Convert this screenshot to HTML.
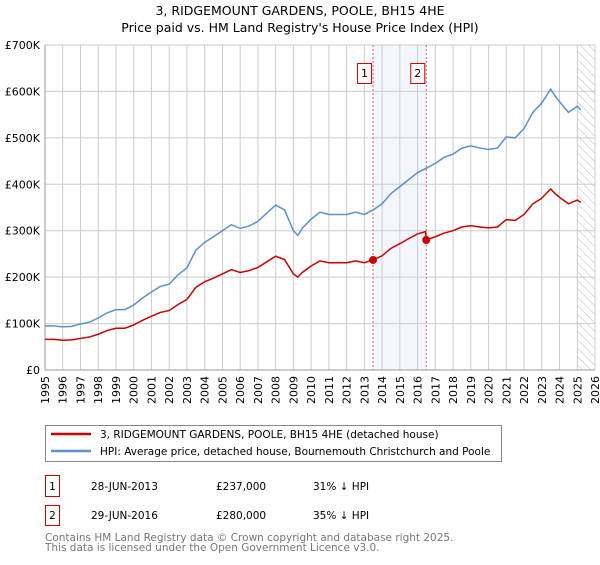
<!DOCTYPE html>
<html><head><meta charset="utf-8"><style>
body{margin:0;background:#fff;}
svg{font-family:"DejaVu Sans","Liberation Sans",sans-serif;}
</style></head><body>
<svg id="c" width="600" height="560" xmlns="http://www.w3.org/2000/svg">
<text x="300" y="15" text-anchor="middle" font-size="12.5">3, RIDGEMOUNT GARDENS, POOLE, BH15 4HE</text>
<text x="300" y="32" text-anchor="middle" font-size="12.5">Price paid vs. HM Land Registry's House Price Index (HPI)</text>
<g id="plot"></g>
<rect x="45.5" y="425.5" width="456" height="36" fill="#fff" stroke="#888"/>
<line x1="51" y1="434" x2="91" y2="434" stroke="#cc0000" stroke-width="2.5"/>
<text x="100" y="438" font-size="10.5">3, RIDGEMOUNT GARDENS, POOLE, BH15 4HE (detached house)</text>
<line x1="51" y1="451" x2="91" y2="451" stroke="#5b8fd4" stroke-width="2.5"/>
<text x="100" y="455" font-size="10.5">HPI: Average price, detached house, Bournemouth Christchurch and Poole</text>
<g font-size="10.5">
<rect x="45.5" y="475.5" width="14" height="21" fill="none" stroke="#cc0000"/><text x="52.5" y="490" text-anchor="middle">1</text>
<text x="91" y="490">28-JUN-2013</text><text x="216" y="490">£237,000</text><text x="313" y="490">31% ↓ HPI</text>
<rect x="45.5" y="505.5" width="14" height="20" fill="none" stroke="#cc0000"/><text x="52.5" y="519" text-anchor="middle">2</text>
<text x="91" y="519">29-JUN-2016</text><text x="216" y="519">£280,000</text><text x="313" y="519">35% ↓ HPI</text>
</g>
<text x="45" y="541" font-size="10.5" fill="#777">Contains HM Land Registry data © Crown copyright and database right 2025.</text>
<text x="45" y="551" font-size="10.5" fill="#777">This data is licensed under the Open Government Licence v3.0.</text>
</svg>
<script>
const years=[1995,1996,1997,1998,1999,2000,2001,2002,2003,2004,2005,2006,2007,2008,2009,2010,2011,2012,2013,2014,2015,2016,2017,2018,2019,2020,2021,2022,2023,2024,2025,2026];
const yTicks=[0,100,200,300,400,500,600,700];
const yTickLabels=["£0","£100K","£200K","£300K","£400K","£500K","£600K","£700K"];
const hpiT=[1995,1995.5,1996,1996.5,1997,1997.5,1998,1998.5,1999,1999.5,2000,2000.5,2001,2001.5,2002,2002.5,2003,2003.5,2004,2004.5,2005,2005.5,2006,2006.5,2007,2007.5,2008,2008.5,2009,2009.25,2009.5,2010,2010.5,2011,2011.5,2012,2012.5,2013,2013.5,2014,2014.5,2015,2015.5,2016,2016.5,2017,2017.5,2018,2018.5,2019,2019.5,2020,2020.5,2021,2021.5,2022,2022.5,2023,2023.5,2023.75,2024,2024.5,2025,2025.2];
const hpiV=[95,95,93,94,99,103,112,123,130,130,140,155,168,180,185,205,220,258,275,287,300,313,305,310,320,338,355,345,300,290,305,325,340,335,335,335,340,335,345,358,380,395,410,425,435,445,458,465,478,483,478,475,478,502,500,520,555,575,605,590,578,555,568,560];
const redT=[1995,1995.5,1996,1996.5,1997,1997.5,1998,1998.5,1999,1999.5,2000,2000.5,2001,2001.5,2002,2002.5,2003,2003.5,2004,2004.5,2005,2005.5,2006,2006.5,2007,2007.5,2008,2008.5,2009,2009.25,2009.5,2010,2010.5,2011,2011.5,2012,2012.5,2013,2013.49,2014,2014.5,2015,2015.5,2016,2016.45,2016.49,2017,2017.5,2018,2018.5,2019,2019.5,2020,2020.5,2021,2021.5,2022,2022.5,2023,2023.5,2023.75,2024,2024.5,2025,2025.2];
const redV=[66,66,64,65,68,71,77,85,90,90,97,107,116,124,128,141,152,178,190,198,207,216,210,214,221,233,245,238,207,200,210,224,235,231,231,231,235,231,237,246,262,272,283,293,298,280,287,295,300,308,311,308,306,308,324,322,335,358,370,390,380,372,358,366,361];
const saleT=[2013.49,2016.49];
const saleV=[237,280];
const saleLabels=["1","2"];
const NS="http://www.w3.org/2000/svg";
const X0=45,X1=595,Y0=370,Y1=45;
const xs=t=>X0+(t-1995)/(2026-1995)*(X1-X0);
const ys=v=>Y0-v/700*(Y0-Y1);
const g=document.getElementById('plot');
function mk(tag,a){const e=document.createElementNS(NS,tag);for(const k in a)e.setAttribute(k,a[k]);g.appendChild(e);return e;}
let defs=mk('defs',{});
defs.innerHTML='<pattern id="hatch" patternUnits="userSpaceOnUse" width="6" height="6" patternTransform="rotate(-45)"><line x1="0" y1="0" x2="0" y2="6" stroke="#bbb" stroke-width="1"/></pattern>';
let sh=mk('rect',{x:xs(saleT[0]),y:Y1,width:xs(saleT[1])-xs(saleT[0]),height:Y0-Y1,fill:'#eef3fc',opacity:0.7});

let ht=mk('rect',{x:xs(2025),y:Y1,width:X1-xs(2025),height:Y0-Y1,fill:'url(#hatch)'});

years.forEach(y=>{const l=mk('line',{x1:xs(y),x2:xs(y),y1:Y1,y2:Y0,stroke:'#ccc'});

const t=mk('text',{x:0,y:0,'font-size':11,'text-anchor':'end',transform:`translate(${xs(y)+4},${Y0+6}) rotate(-90)`});t.textContent=y;
});
yTicks.forEach((v,i)=>{const l=mk('line',{x1:X0,x2:X1,y1:ys(v),y2:ys(v),stroke:'#ccc'});

const t=mk('text',{x:X0-5,y:ys(v)+4,'font-size':11,'text-anchor':'end'});t.textContent=yTickLabels[i];
});
mk('line',{x1:X0,x2:X0,y1:Y1,y2:Y0,stroke:'#999'});
mk('line',{x1:X0,x2:X1,y1:Y0,y2:Y0,stroke:'#999'});
saleT.forEach((t,i)=>{const l=mk('line',{x1:xs(t),x2:xs(t),y1:Y1,y2:Y0,stroke:'#ee5555','stroke-dasharray':'2,2'});
});
function line(T,V,col,name){const p=mk('polyline',{points:T.map((t,i)=>xs(t)+','+ys(V[i])).join(' '),fill:'none',stroke:col,'stroke-width':1.5});
}
line(hpiT,hpiV,'#5b8fd4','hpi-line');
line(redT,redV,'#cc0000','property-line');
saleT.forEach((t,i)=>{const c=mk('circle',{cx:xs(t),cy:ys(saleV[i]),r:4,fill:'#cc0000'});

const r=mk('rect',{x:xs(t)-15.5,y:63.5,width:14,height:20,fill:'#fff',stroke:'#cc0000'});

const tx=mk('text',{x:xs(t)-8.5,y:77,'font-size':11,'text-anchor':'middle'});tx.textContent=saleLabels[i];
});
</script>
</body></html>
